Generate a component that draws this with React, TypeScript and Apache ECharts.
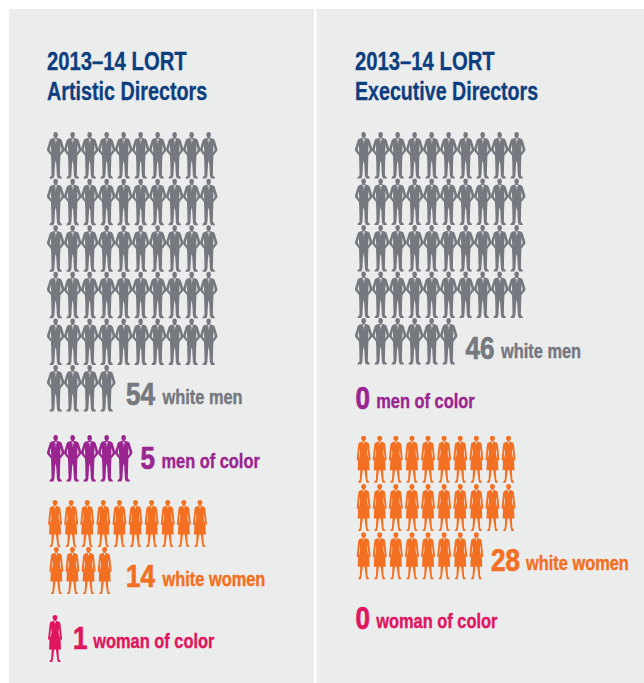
import React, { useEffect, useRef } from "react";
import * as echarts from "echarts";

const titleLineOne = "2013–14 LORT";
const panelTitles = ["Artistic Directors", "Executive Directors"];

const groupCounts = [54, 5, 14, 1, 46, 0, 28, 0];
const groupLabels = ["white men", "men of color", "white women", "woman of color", "white men", "men of color", "white women", "woman of color"];
const groupKinds = ["man", "man", "woman", "woman", "man", "man", "woman", "woman"];
const groupColors = ["#75787e", "#9b2590", "#f36f21", "#e0155f", "#75787e", "#9b2590", "#f36f21", "#e0155f"];

// layout of each pictogram block: left, top, column pitch, row pitch
const blockLeft = [47.2, 47.2, 47, 47, 355.2, 355.2, 355.6, 355.6];
const blockTop = [132, 435, 500, 615, 132, 365, 435, 580];
const columnPitch = [17, 17, 16.1, 16.1, 17, 17, 16.1, 16.1];
const rowPitch = [46.6, 46.6, 47, 47, 46.5, 46.5, 48.3, 48.3];
const lastRowShift = [0, 0, 1.3, 0, 0, 0, 0, 0];
// layout of each label: number x, word x, baseline
const numberX = [126, 140.5, 126, 73, 465.5, 355.5, 491, 355.5];
const wordX = [162.5, 161.5, 162.5, 93.3, 501, 376.3, 526, 376.3];
const baselineY = [403, 467, 585, 647.5, 357, 407, 569.5, 627];

const COLUMNS = 10;
const FONT = '"Liberation Sans", Arial, sans-serif';

const MAN =
  "path://M87 0C72 0 64 12 64 28C64 46 74 60 87 60C100 60 110 46 110 28C110 12 102 0 87 0Z" +
  "M76 58L42 68C30 72 26 84 22 100L0 172L2 188L30 222L40 234L43 300L46 432L26 455L26 465L63 465L74 440L81 320L87 285L93 320L100 440L111 465L149 465L149 455L129 432L132 300L135 234L145 222L173 188L175 172L153 100C149 84 145 72 133 68L98 58Z" +
  "M39 128L43 208L27 178Z" +
  "M136 128L148 178L132 208Z" +
  "M76 66L99 66L87 120Z" +
  "M87 72L84 78L85 102L87 114L89 102L90 78Z";

const WOMAN =
  "path://M67 0C53 0 43 11 43 26C43 41 53 54 67 54C81 54 91 41 91 26C91 11 81 0 67 0Z" +
  "M60 50L50 60L28 68C20 72 17 80 15 92L3 210L0 238L6 252L13 244L15 225L10 345L35 345L30 440L15 462L15 470L40 470L46 445L59 345L75 345L88 445L94 470L119 470L119 462L104 440L99 345L124 345L119 225L121 244L128 252L134 238L131 210L119 92C117 80 114 72 106 68L84 60L74 50Z" +
  "M29 125L33 175L25 222L21 222Z" +
  "M105 125L113 222L109 222L101 175Z" +
  "M58 60L76 60L67 88Z";

const personCells = (count: number, pitch: number, shift: number) => {
  const rows = Math.ceil(count / COLUMNS);
  return Array.from({ length: count }, (_, i) => {
    const row = Math.floor(i / COLUMNS);
    const col = i % COLUMNS;
    return [col + 0.5 + (row === rows - 1 && rows > 1 ? shift / pitch : 0), row + 0.5];
  });
};

export default function App() {
  const ref = useRef<HTMLDivElement>(null);
  useEffect(() => {
    const chart = echarts.init(ref.current!, undefined, { renderer: "svg" });

    const used = groupCounts.map((c, i) => i).filter((i) => groupCounts[i] > 0);
    const grid = used.map((i) => ({
      left: blockLeft[i],
      top: blockTop[i],
      width: COLUMNS * columnPitch[i],
      height: Math.ceil(groupCounts[i] / COLUMNS) * rowPitch[i],
    }));
    const xAxis = used.map((i, g) => ({ type: "value", gridIndex: g, min: 0, max: COLUMNS, show: false }));
    const yAxis = used.map((i, g) => ({
      type: "value",
      gridIndex: g,
      min: 0,
      max: Math.ceil(groupCounts[i] / COLUMNS),
      inverse: true,
      show: false,
    }));
    const series = used.map((i, g) => ({
      type: "scatter",
      name: groupLabels[i],
      xAxisIndex: g,
      yAxisIndex: g,
      clip: false,
      symbol: groupKinds[i] === "man" ? MAN : WOMAN,
      symbolSize: groupKinds[i] === "man" ? [17.5, 46.5] : [14, 47],
      itemStyle: { color: groupColors[i], opacity: 1 },
      data: personCells(groupCounts[i], columnPitch[i], lastRowShift[i]),
      z: 3,
    }));

    const text = (t: string, x: number, y: number, size: number, fill: string, squeeze: number, weight: number) => ({
      type: "text",
      z: 5,
      x,
      y,
      scaleX: squeeze,
      style: {
        text: t,
        x: 0,
        y: 0,
        fontFamily: FONT,
        fontWeight: "bold",
        fontSize: size,
        fill,
        stroke: fill,
        lineWidth: weight,
        align: "left",
        verticalAlign: "bottom",
      },
    });

    const labels = groupCounts.flatMap((c, i) => [
      text(String(c), numberX[i], baselineY[i] + 6.5, 31, groupColors[i], 0.84, 0.7),
      text(groupLabels[i], wordX[i], baselineY[i] + 3.5, 20, groupColors[i], 0.82, 0.4),
    ]);

    chart.setOption({
      animation: false,
      backgroundColor: "#ffffff",
      grid,
      xAxis,
      yAxis,
      series,
      graphic: [
        { type: "rect", z: 0, shape: { x: 9, y: 9, width: 305, height: 674 }, style: { fill: "#ebecec" } },
        { type: "rect", z: 0, shape: { x: 316.5, y: 9, width: 327.5, height: 674 }, style: { fill: "#ebecec" } },
        text(titleLineOne, 47, 74.5, 26, "#0d3f80", 0.78, 0.3),
        text(panelTitles[0], 47, 103.5, 26, "#0d3f80", 0.76, 0.3),
        text(titleLineOne, 355, 74.5, 26, "#0d3f80", 0.78, 0.3),
        text(panelTitles[1], 355, 103.5, 26, "#0d3f80", 0.755, 0.3),
        ...labels,
      ],
    });
    return () => chart.dispose();
  }, []);
  return <div ref={ref} style={{ position: "fixed", left: 0, top: 0, width: 644, height: 683 }} />;
}
